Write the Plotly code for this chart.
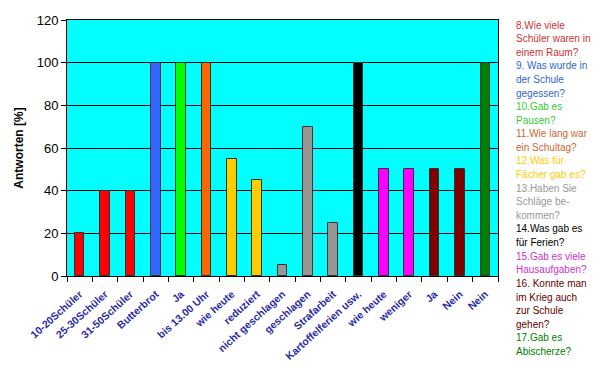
import plotly.graph_objects as go

categories = ["10-20Schüler", "25-30Schüler", "31-50Schüler", "Butterbrot", "Ja",
              "bis 13.00 Uhr", "wie heute", "reduziert", "nicht geschlagen", "geschlagen",
              "Strafarbeit", "Kartoffelferien usw.", "wie heute", "weniger", "Ja", "Nein", "Nein"]
values = [20, 40, 40, 100, 100, 100, 55, 45, 5, 70, 25, 100, 50, 50, 50, 50, 100]
bar_colors = ["#ff0000", "#ff0000", "#ff0000", "#3366ff", "#00ff00", "#ff6600",
              "#ffcc00", "#ffcc00", "#969696", "#969696", "#969696", "#000000",
              "#ff00ff", "#ff00ff", "#800000", "#800000", "#008000"]

questions = [
    ["8.Wie viele", "Schüler waren in", "einem Raum?"],
    ["9. Was wurde in", "der Schule", "gegessen?"],
    ["10.Gab es", "Pausen?"],
    ["11.Wie lang war", "ein Schultag?"],
    ["12.Was für", "Fächer gab es?"],
    ["13.Haben Sie", "Schläge be-", "kommen?"],
    ["14.Was gab es", "für Ferien?"],
    ["15.Gab es viele", "Hausaufgaben?"],
    ["16. Konnte man", "im Krieg auch", "zur Schule", "gehen?"],
    ["17.Gab es", "Abischerze?"],
]
question_colors = ["#cc3333", "#3366cc", "#33cc33", "#cc6633", "#ffcc00",
                   "#999999", "#000000", "#cc33cc", "#660000", "#008000"]

x = list(range(len(categories)))

fig = go.Figure()
fig.add_trace(go.Bar(
    x=x, y=values, width=0.38,
    marker=dict(color=bar_colors, line=dict(color="#333333", width=1)),
    showlegend=False,
))

# layout geometry (pixels)
L, R, T, B = 67, 102, 20, 96
W, H = 600, 372
ph = H - T - B
pw = W - L - R

annotations = []
line_h = 13.6
py = 25
for lines, col in zip(questions, question_colors):
    for ln in lines:
        annotations.append(dict(
            x=(514 - L) / pw, y=(H - B - py) / ph, xref="paper", yref="paper",
            text=ln, showarrow=False, xanchor="left", yanchor="middle",
            font=dict(family="Arial, Liberation Sans, sans-serif", size=10, color=col),
        ))
        py += line_h

fig.update_layout(
    width=W, height=H,
    margin=dict(l=L, r=R, t=T, b=B, pad=0, autoexpand=False),
    paper_bgcolor="white",
    plot_bgcolor="#00ffff",
    font=dict(family="Arial, Liberation Sans, sans-serif", color="black"),
    bargap=0,
    annotations=annotations,
    xaxis=dict(
        tickmode="array", tickvals=x, ticktext=categories,
        tickangle=-42, range=[-0.5, len(categories) - 0.5],
        tickfont=dict(size=10.5, color="#2a2aa8", family="Arial, Liberation Sans, sans-serif", weight="bold"),
        ticks="", showgrid=False, zeroline=False, automargin=False,
        ticklabelstandoff=7,
        showline=True, linecolor="black", linewidth=1, mirror=True,
        minor=dict(ticks="outside", tick0=-0.5, dtick=1, ticklen=5, tickcolor="black", showgrid=False),
    ),
    yaxis=dict(
        range=[0, 120], tickvals=[0, 20, 40, 60, 80, 100, 120],
        tickfont=dict(size=13, color="black"), automargin=False,
        ticks="outside", ticklen=5, tickcolor="black",
        showgrid=True, gridcolor="black", gridwidth=1, zeroline=False,
        showline=True, linecolor="black", linewidth=1, mirror=True,
        title=dict(text="<b>Antworten [%]</b>", font=dict(size=12, color="black"), standoff=10),
    ),
)

fig.write_html(
    "out.html",
    config={"displayModeBar": False},
    post_script="document.body.style.margin='0px';document.body.style.overflow='hidden';",
)
